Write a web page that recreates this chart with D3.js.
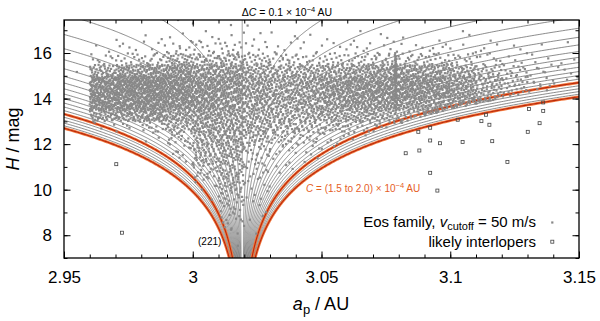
<!DOCTYPE html>
<html>
<head>
<meta charset="utf-8">
<script src="https://cdn.jsdelivr.net/npm/d3@7"></script>
<style>
  body { margin: 0; background: #fff; }
  svg { display: block; font-family: "Liberation Sans", Arial, sans-serif; }
</style>
</head>
<body>
<div id="chart"></div>
<script>
// Eos family density: bins of 0.01 AU x 0.5 mag
const familyA = [2.95, 2.96, 2.97, 2.98, 2.99, 3.00, 3.01, 3.02, 3.03, 3.04,
                 3.05, 3.06, 3.07, 3.08, 3.09, 3.10, 3.11, 3.12, 3.13, 3.14];
const familyH = [17.0, 16.5, 16.0, 15.5, 15.0, 14.5, 14.0, 13.5, 13.0, 12.5, 12.0,
                 11.5, 11.0, 10.5, 10.0, 9.5, 9.0, 8.5, 8.0, 7.5, 7.0];
const familyCounts = [
  [0, 0, 0, 0, 1, 0, 0, 0, 0, 0, 0, 0, 0, 0, 0, 0, 0, 0, 0, 0, 0],
  [0, 0, 2, 8, 35, 80, 85, 80, 40, 3, 0, 0, 0, 0, 0, 0, 0, 0, 0, 0, 0],
  [0, 1, 4, 12, 50, 90, 90, 85, 50, 5, 0, 0, 0, 0, 0, 0, 0, 0, 0, 0, 0],
  [0, 2, 5, 15, 55, 90, 90, 85, 60, 15, 2, 0, 0, 0, 0, 0, 0, 0, 0, 0, 0],
  [1, 3, 8, 30, 65, 85, 85, 75, 50, 30, 15, 8, 3, 0, 0, 0, 0, 0, 0, 0, 0],
  [1, 3, 8, 25, 55, 70, 70, 65, 55, 45, 35, 30, 25, 15, 6, 1, 0, 0, 0, 0, 0],
  [1, 3, 10, 30, 55, 65, 60, 55, 50, 45, 40, 35, 30, 28, 25, 18, 14, 10, 5, 1, 0],
  [1, 2, 6, 20, 40, 50, 50, 45, 40, 35, 25, 15, 10, 8, 6, 4, 3, 2, 1, 0, 0],
  [0, 2, 4, 15, 35, 45, 45, 40, 35, 28, 18, 8, 4, 2, 0, 0, 0, 0, 0, 0, 0],
  [0, 2, 3, 12, 35, 50, 50, 45, 35, 25, 12, 5, 2, 0, 0, 0, 0, 0, 0, 0, 0],
  [0, 1, 4, 14, 40, 60, 60, 50, 35, 20, 6, 2, 0, 0, 0, 0, 0, 0, 0, 0, 0],
  [0, 2, 5, 15, 45, 65, 65, 55, 35, 12, 3, 0, 0, 0, 0, 0, 0, 0, 0, 0, 0],
  [0, 2, 5, 18, 50, 70, 70, 55, 30, 8, 1, 0, 0, 0, 0, 0, 0, 0, 0, 0, 0],
  [0, 1, 4, 15, 50, 70, 70, 50, 20, 3, 0, 0, 0, 0, 0, 0, 0, 0, 0, 0, 0],
  [0, 1, 4, 15, 45, 65, 65, 45, 15, 1, 0, 0, 0, 0, 0, 0, 0, 0, 0, 0, 0],
  [0, 2, 3, 12, 35, 50, 50, 35, 8, 0, 0, 0, 0, 0, 0, 0, 0, 0, 0, 0, 0],
  [0, 1, 3, 8, 20, 30, 28, 15, 3, 0, 0, 0, 0, 0, 0, 0, 0, 0, 0, 0, 0],
  [0, 0, 2, 5, 12, 18, 12, 4, 0, 0, 0, 0, 0, 0, 0, 0, 0, 0, 0, 0, 0],
  [0, 0, 1, 3, 6, 8, 3, 0, 0, 0, 0, 0, 0, 0, 0, 0, 0, 0, 0, 0, 0],
  [0, 0, 1, 2, 3, 3, 0, 0, 0, 0, 0, 0, 0, 0, 0, 0, 0, 0, 0, 0, 0]
];
// narrow vertical streak near 3.079 AU
const streakA = [3.0784, 3.0792];
const streakH = [15.5, 15.0, 14.5, 14.0, 13.5];
const streakCounts = [8, 10, 10, 10, 6];

const interloperA = [2.9703, 2.9725, 3.0827, 3.0880, 3.0876, 3.0922, 3.0922, 3.0960,
                     3.1048, 3.1163, 3.1029, 3.1121, 3.1152, 3.1139, 3.1306, 3.1361,
                     3.1361, 3.1347, 3.1301, 3.1222, 3.0922, 3.0950];
const interloperH = [11.12, 8.11, 11.60, 11.72, 12.54, 12.72, 12.16, 12.04,
                     12.09, 12.13, 13.07, 13.01, 12.85, 13.29, 13.54, 13.46,
                     13.83, 12.92, 12.54, 11.22, 10.74, 9.96];

const curveC = d3.range(1, 21).map(i => i / 10); // 1e-4 AU
const boldC = [1.5, 2.0];
const aCentre = 3.0192;
const xTicks = [2.95, 3.0, 3.05, 3.1, 3.15];
const xTickLabels = ['2.95', '3', '3.05', '3.1', '3.15'];
const yTicks = [8, 10, 12, 14, 16];

const width = 600, height = 321;
const margin = { top: 20, right: 21, bottom: 63, left: 64 };
const aStep = 0.01, hStep = 0.5;

const svg = d3.select('#chart').append('svg')
  .attr('width', width).attr('height', height);

const x = d3.scaleLinear().domain([2.95, 3.15]).range([margin.left, width - margin.right]);
const y = d3.scaleLinear().domain([7, 17.45]).range([height - margin.bottom, margin.top]);

svg.append('clipPath').attr('id', 'plotClip')
  .append('rect')
  .attr('x', margin.left).attr('y', margin.top)
  .attr('width', x.range()[1] - x.range()[0])
  .attr('height', y.range()[0] - y.range()[1]);

const plot = svg.append('g').attr('clip-path', 'url(#plotClip)');

// centre line
plot.append('line')
  .attr('x1', x(aCentre)).attr('x2', x(aCentre))
  .attr('y1', y.range()[1]).attr('y2', y(11.2))
  .attr('stroke', '#8c8c8c').attr('stroke-width', 0.8);

// V-shape curves H = 5 log10(|a - ac| / C)
const hSamples = d3.range(6.5, 18.01, 0.02);
const line = d3.line().x(d => x(d[0])).y(d => y(d[1]));
const curves = [];
curveC.forEach(c => {
  [-1, 1].forEach(side => {
    curves.push({
      c: c,
      pts: hSamples.map(h => [aCentre + side * c * 1e-4 * Math.pow(10, h / 5), h])
    });
  });
});

plot.append('g').selectAll('path')
  .data(curves.filter(d => !boldC.includes(d.c)))
  .enter().append('path')
  .attr('d', d => line(d.pts))
  .attr('fill', 'none')
  .attr('stroke', '#5a5a5a')
  .attr('stroke-width', 0.7);

const bold = curves.filter(d => boldC.includes(d.c));
plot.append('g').selectAll('path')
  .data(bold)
  .enter().append('path')
  .attr('d', d => line(d.pts))
  .attr('fill', 'none')
  .attr('stroke', '#f3793e')
  .attr('stroke-width', 2.8);
plot.append('g').selectAll('path')
  .data(bold)
  .enter().append('path')
  .attr('d', d => line(d.pts))
  .attr('fill', 'none')
  .attr('stroke', '#b8290c')
  .attr('stroke-width', 1.1);

plot.append('line')
  .attr('x1', x(aCentre)).attr('x2', x(aCentre))
  .attr('y1', y(11.2)).attr('y2', y.range()[0])
  .attr('stroke', '#fff').attr('stroke-width', 1.2);

// family points, spread inside each bin
function halton(i, b) {
  let f = 1, r = 0;
  while (i > 0) { f /= b; r += f * (i % b); i = Math.floor(i / b); }
  return r;
}
const vEdge = a => 5 * Math.log10(Math.abs(a - aCentre) / 1.6e-4);
const famPts = [];
let seq = 1;
function fillCell(a0, da, h0, dh, n) {
  let got = 0, tries = 0;
  while (got < n && tries < n * 40) {
    const a = a0 + halton(seq, 2) * da;
    const h = h0 + halton(seq, 3) * dh;
    seq++; tries++;
    if (h < vEdge(a)) continue;
    famPts.push([a, h]);
    got++;
  }
}
familyCounts.forEach((col, ci) => {
  col.forEach((n, ri) => { if (n > 0) fillCell(familyA[ci], aStep, familyH[ri], hStep, n); });
});
streakH.forEach((h, i) => fillCell(streakA[0], streakA[1] - streakA[0], h, hStep, streakCounts[i]));

plot.append('g').selectAll('rect')
  .data(famPts)
  .enter().append('rect')
  .attr('x', d => x(d[0]) - 1.1)
  .attr('y', d => y(d[1]) - 1.1)
  .attr('width', 2.2).attr('height', 2.2)
  .attr('fill', '#888');

plot.append('g').selectAll('rect')
  .data(interloperA.map((a, i) => [a, interloperH[i]]))
  .enter().append('rect')
  .attr('x', d => x(d[0]) - 1.5)
  .attr('y', d => y(d[1]) - 1.5)
  .attr('width', 3).attr('height', 3)
  .attr('fill', 'none')
  .attr('stroke', '#444').attr('stroke-width', 0.8);

// axes
const bottomY = y.range()[0], topY = y.range()[1];
const leftX = x.range()[0], rightX = x.range()[1];
const minorX = d3.range(2.95, 3.1501, 0.01);
const minorY = d3.range(7, 17.01, 1);

function styleAxis(g) {
  g.select('.domain').remove();
  g.selectAll('.tick line').attr('stroke', '#000').attr('stroke-width', 1);
  g.selectAll('.tick text').attr('font-size', '17px').attr('fill', '#000')
    .attr('font-family', '"Liberation Sans", Arial, sans-serif');
}

svg.append('g').attr('transform', `translate(0,${bottomY})`)
  .call(d3.axisBottom(x).tickValues(minorX).tickSize(-3.5).tickFormat(''))
  .call(styleAxis);
svg.append('g').attr('transform', `translate(0,${bottomY})`)
  .call(d3.axisBottom(x).tickValues(xTicks).tickSize(-6.5).tickPadding(13)
    .tickFormat((d, i) => xTickLabels[i]))
  .call(styleAxis);
svg.append('g').attr('transform', `translate(0,${topY})`)
  .call(d3.axisTop(x).tickValues(minorX).tickSize(-3.5).tickFormat(''))
  .call(styleAxis);
svg.append('g').attr('transform', `translate(0,${topY})`)
  .call(d3.axisTop(x).tickValues(xTicks).tickSize(-6.5).tickFormat(''))
  .call(styleAxis);

svg.append('g').attr('transform', `translate(${leftX},0)`)
  .call(d3.axisLeft(y).tickValues(minorY).tickSize(-3.5).tickFormat(''))
  .call(styleAxis);
svg.append('g').attr('transform', `translate(${leftX},0)`)
  .call(d3.axisLeft(y).tickValues(yTicks).tickSize(-6.5).tickPadding(12).tickFormat(d3.format('d')))
  .call(styleAxis);
svg.append('g').attr('transform', `translate(${rightX},0)`)
  .call(d3.axisRight(y).tickValues(minorY).tickSize(-3.5).tickFormat(''))
  .call(styleAxis);
svg.append('g').attr('transform', `translate(${rightX},0)`)
  .call(d3.axisRight(y).tickValues(yTicks).tickSize(-6.5).tickFormat(''))
  .call(styleAxis);

svg.append('rect')
  .attr('x', leftX).attr('y', topY)
  .attr('width', rightX - leftX).attr('height', bottomY - topY)
  .attr('fill', 'none').attr('stroke', '#000').attr('stroke-width', 1.3);

// axis titles
const yTitle = svg.append('text')
  .attr('transform', 'translate(19,139) rotate(-90)')
  .attr('text-anchor', 'middle')
  .attr('font-size', '18px');
yTitle.append('tspan').attr('font-style', 'italic').text('H');
yTitle.append('tspan').text(' / mag');

const xTitle = svg.append('text')
  .attr('x', 321).attr('y', 310)
  .attr('text-anchor', 'middle')
  .attr('font-size', '18px');
xTitle.append('tspan').attr('font-style', 'italic').text('a');
xTitle.append('tspan').attr('font-size', '13px').attr('dy', 4).text('p');
xTitle.append('tspan').attr('dy', -4).text(' / AU');

// annotations
const topLabel = svg.append('text')
  .attr('x', 287).attr('y', 15.5)
  .attr('text-anchor', 'middle')
  .attr('font-size', '10.5px');
topLabel.append('tspan').text('\u0394');
topLabel.append('tspan').attr('font-style', 'italic').text('C');
topLabel.append('tspan').text(' = 0.1 \u00d7 10');
topLabel.append('tspan').attr('font-size', '7.5px').attr('dy', -4).text('\u22124');
topLabel.append('tspan').attr('dy', 4).text(' AU');

const cLabel = svg.append('text')
  .attr('x', 306).attr('y', 191.5)
  .attr('font-size', '10px')
  .attr('fill', '#e5601f');
cLabel.append('tspan').attr('font-style', 'italic').text('C');
cLabel.append('tspan').text(' = (1.5 to 2.0) \u00d7 10');
cLabel.append('tspan').attr('font-size', '7.5px').attr('dy', -4).text('\u22124');
cLabel.append('tspan').attr('dy', 4).text(' AU');

svg.append('text')
  .attr('x', 198).attr('y', 245)
  .attr('font-size', '10px')
  .text('(221)');

// legend
const leg1 = svg.append('text')
  .attr('x', 536).attr('y', 227)
  .attr('text-anchor', 'end')
  .attr('font-size', '15px');
leg1.append('tspan').text('Eos family, ');
leg1.append('tspan').attr('font-style', 'italic').text('v');
leg1.append('tspan').attr('font-size', '11px').attr('dy', 3).text('cutoff');
leg1.append('tspan').attr('dy', -3).text(' = 50 m/s');

svg.append('text')
  .attr('x', 536).attr('y', 246.5)
  .attr('text-anchor', 'end')
  .attr('font-size', '15px')
  .text('likely interlopers');

svg.append('rect')
  .attr('x', 552.3 - 1.1).attr('y', 222.5 - 1.1)
  .attr('width', 2.2).attr('height', 2.2)
  .attr('fill', '#888');
svg.append('rect')
  .attr('x', 552.3 - 1.5).attr('y', 241.7 - 1.5)
  .attr('width', 3).attr('height', 3)
  .attr('fill', 'none').attr('stroke', '#444').attr('stroke-width', 0.8);
</script>
</body>
</html>
